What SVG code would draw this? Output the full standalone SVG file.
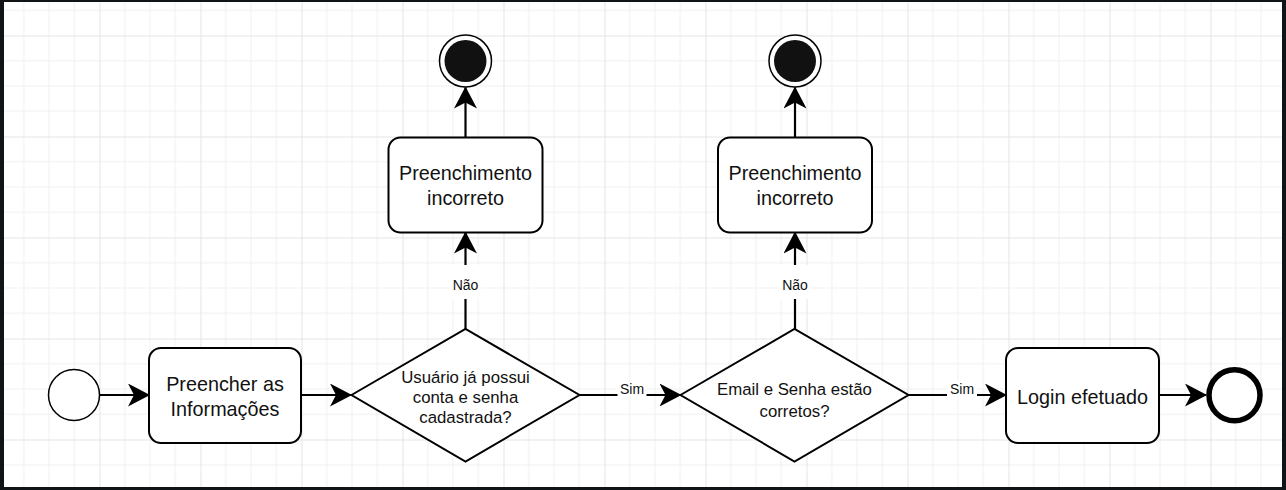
<svg xmlns="http://www.w3.org/2000/svg" width="1286" height="490" viewBox="0 0 1286 490">
  <style>
    .node { fill: #ffffff; stroke: #000000; stroke-width: 2; }
    .thin { fill: #ffffff; stroke: #000000; stroke-width: 1.5; }
    .t { font-family: "Liberation Sans", Arial, sans-serif; fill: #111111; text-anchor: middle; }
    .big { font-size: 19.8px; }
    .mid { font-size: 16.8px; }
    .lbl { font-size: 14px; }
    .edge { fill: none; stroke: #000000; stroke-width: 2.2; }
    .lblbg { fill: #ffffff; }
  </style>
  <defs>
    <pattern id="grid" patternUnits="userSpaceOnUse" x="99.5" y="35.5" width="101" height="101">
      <rect x="0" y="0" width="101" height="101" fill="#ffffff"/>
      <rect x="24.75" y="0" width="1" height="101" fill="#f0f0f0"/>
      <rect x="50" y="0" width="1" height="101" fill="#f0f0f0"/>
      <rect x="75.25" y="0" width="1" height="101" fill="#f0f0f0"/>
      <rect x="0" y="24.75" width="101" height="1" fill="#f0f0f0"/>
      <rect x="0" y="50" width="101" height="1" fill="#f0f0f0"/>
      <rect x="0" y="75.25" width="101" height="1" fill="#f0f0f0"/>
      <rect x="0" y="0" width="1" height="101" fill="#e4e4e4"/>
      <rect x="0" y="0" width="101" height="1" fill="#e4e4e4"/>
    </pattern>
    <marker id="arrow" viewBox="0 0 22 23" refX="21" refY="11.5" markerWidth="22" markerHeight="23" markerUnits="userSpaceOnUse" orient="auto">
      <path d="M0,0 L22,11.5 L0,23 L6,11.5 Z" fill="#000000"/>
    </marker>
  </defs>

  <rect x="0" y="0" width="1286" height="490" fill="#111417"/>
  <rect x="4" y="2" width="1278" height="485" fill="url(#grid)"/>

  <g id="connectors">
    <line class="edge" x1="100" y1="395" x2="149" y2="395" marker-end="url(#arrow)"/>
    <line class="edge" x1="301" y1="395" x2="351" y2="395" marker-end="url(#arrow)"/>
    <line class="edge" x1="579.5" y1="395" x2="680.5" y2="395" marker-end="url(#arrow)"/>
    <line class="edge" x1="908.5" y1="395" x2="1006" y2="395" marker-end="url(#arrow)"/>
    <line class="edge" x1="1159.5" y1="395" x2="1206" y2="395" marker-end="url(#arrow)"/>
    <line class="edge" x1="465.5" y1="329" x2="465.5" y2="232.5" marker-end="url(#arrow)"/>
    <line class="edge" x1="465.5" y1="137.5" x2="465.5" y2="87.5" marker-end="url(#arrow)"/>
    <line class="edge" x1="795" y1="329" x2="795" y2="232.5" marker-end="url(#arrow)"/>
    <line class="edge" x1="795" y1="137.5" x2="795" y2="87.5" marker-end="url(#arrow)"/>
    <g id="label-sim-1">
      <rect class="lblbg" x="617.5" y="381" width="29" height="15"/>
      <text class="t lbl" x="632" y="393.5">Sim</text>
    </g>
    <g id="label-sim-2">
      <rect class="lblbg" x="947" y="381" width="30" height="15"/>
      <text class="t lbl" x="962" y="393.5">Sim</text>
    </g>
    <g id="label-nao-1">
      <rect class="lblbg" x="450" y="265" width="31" height="34"/>
      <text class="t lbl" x="465.5" y="290">Não</text>
    </g>
    <g id="label-nao-2">
      <rect class="lblbg" x="779.5" y="265" width="31" height="34"/>
      <text class="t lbl" x="795" y="290">Não</text>
    </g>
  </g>

  <g id="start">
    <circle class="thin" cx="74" cy="395" r="25.5"/>
  </g>

  <g id="preencher">
    <rect class="node" x="149" y="348" width="152" height="95" rx="12" ry="12"/>
    <text class="t big" x="225" y="391">Preencher as</text>
    <text class="t big" x="225" y="416">Informações</text>
  </g>

  <g id="decisao-conta">
    <polygon class="node" points="351.5,395 465.5,329 579.5,395 465.5,461.5"/>
    <text class="t mid" x="465.5" y="382.5">Usuário já possui</text>
    <text class="t mid" x="465.5" y="403">conta e senha</text>
    <text class="t mid" x="465.5" y="423">cadastrada?</text>
  </g>

  <g id="incorreto-1">
    <rect class="node" x="388.5" y="137.5" width="154" height="95" rx="12" ry="12"/>
    <text class="t big" x="465.5" y="179.5">Preenchimento</text>
    <text class="t big" x="465.5" y="205">incorreto</text>
  </g>

  <g id="fim-1">
    <circle class="thin" cx="465.5" cy="61" r="26"/>
    <circle cx="465.5" cy="61" r="21" fill="#111111"/>
  </g>

  <g id="decisao-email">
    <polygon class="node" points="680.5,395 794.5,329 908.5,395 794.5,461.5"/>
    <text class="t mid" x="794.5" y="394.5">Email e Senha estão</text>
    <text class="t mid" x="794.5" y="416.5">corretos?</text>
  </g>

  <g id="incorreto-2">
    <rect class="node" x="718" y="137.5" width="154" height="95" rx="12" ry="12"/>
    <text class="t big" x="795" y="179.5">Preenchimento</text>
    <text class="t big" x="795" y="205">incorreto</text>
  </g>

  <g id="fim-2">
    <circle class="thin" cx="795" cy="61" r="26"/>
    <circle cx="795" cy="61" r="21" fill="#111111"/>
  </g>

  <g id="login">
    <rect class="node" x="1006" y="348" width="153" height="95" rx="12" ry="12"/>
    <text class="t big" x="1082.5" y="403.5">Login efetuado</text>
  </g>

  <g id="fim-login">
    <circle cx="1234.5" cy="395.3" r="25.5" fill="#ffffff" stroke="#000000" stroke-width="5.5"/>
  </g>
</svg>
